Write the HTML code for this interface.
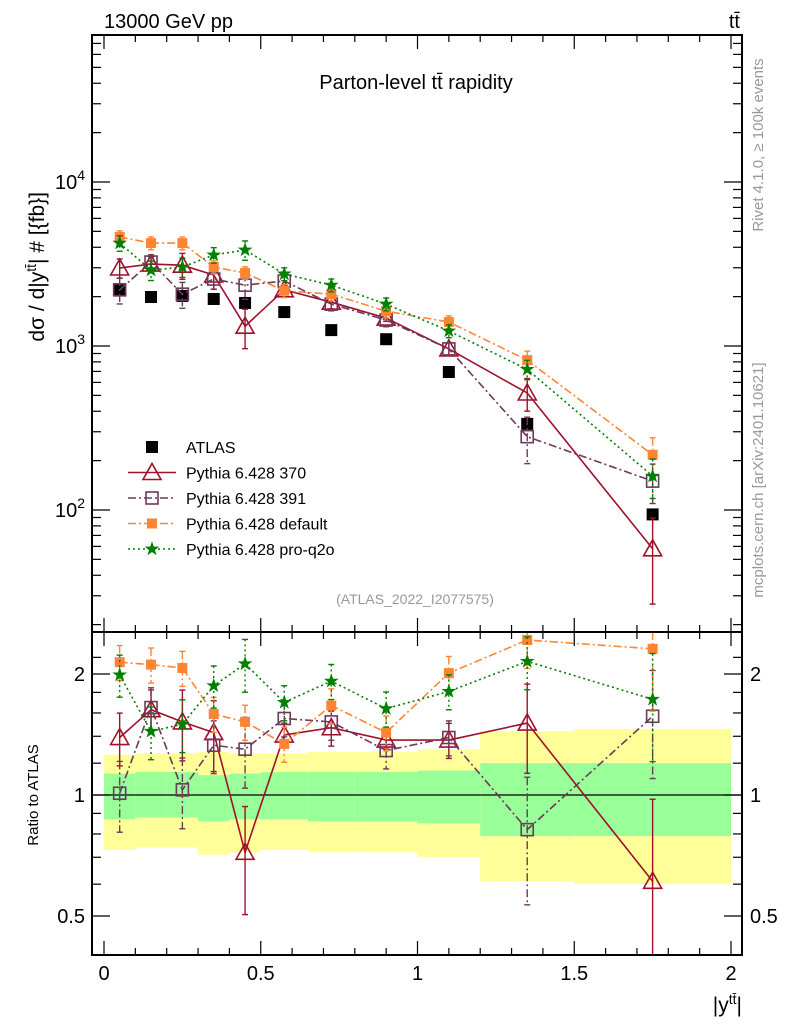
<!DOCTYPE html>
<html><head><meta charset="utf-8"><style>
html,body{margin:0;padding:0;background:#fff}
svg{display:block;font-family:"Liberation Sans",sans-serif}
</style></head><body>
<svg id="c" width="786" height="1024" viewBox="0 0 786 1024" xmlns="http://www.w3.org/2000/svg"></svg>
<script>
const xCenters=[0.05,0.15,0.25,0.35,0.45,0.575,0.725,0.9,1.1,1.35,1.75];
const binEdges=[0,0.1,0.2,0.3,0.4,0.5,0.65,0.8,1.0,1.2,1.5,2.0];
const atlas=[2196,1990,2020,1935,1830,1610,1250,1100,694,335,94];
const p370=[2990,3160,3110,2710,1320,2200,1850,1480,960,517,58];
const p391=[2200,3250,2070,2560,2350,2490,1800,1440,960,280,150];
const pDef=[4620,4240,4240,3030,2790,2170,2070,1630,1400,820,217];
const pQ2o=[4240,2900,3030,3590,3850,2750,2350,1800,1235,720,161];
const r370=[1.39,1.63,1.52,1.43,0.72,1.41,1.47,1.37,1.37,1.51,0.61];
const r391=[1.01,1.65,1.03,1.33,1.30,1.55,1.52,1.29,1.39,0.82,1.57];
const rDef=[2.14,2.11,2.07,1.59,1.52,1.34,1.67,1.43,2.01,2.43,2.31];
const rQ2o=[1.99,1.44,1.50,1.87,2.12,1.70,1.92,1.64,1.81,2.15,1.73];
const e370=[0.15,0.12,0.2,0.2,0.3,0.07,0.1,0.05,0.1,0.25,0.6];
const e391=[0.2,0.12,0.2,0.15,0.2,0.1,0.1,0.1,0.1,0.35,0.3];
const eDef=[0.1,0.1,0.1,0.1,0.1,0.1,0.1,0.1,0.1,0.15,0.3];
const eQ2o=[0.12,0.15,0.15,0.12,0.15,0.1,0.1,0.1,0.1,0.15,0.3];
const greenHi=[1.13,1.14,1.14,1.12,1.13,1.14,1.14,1.14,1.15,1.20,1.20];
const greenLo=[0.87,0.88,0.88,0.86,0.87,0.87,0.86,0.86,0.85,0.79,0.79];
const yellowHi=[1.26,1.27,1.27,1.28,1.27,1.27,1.28,1.28,1.30,1.44,1.46];
const yellowLo=[0.73,0.74,0.74,0.71,0.72,0.73,0.72,0.72,0.70,0.61,0.60];
const xTickLabels=[0,0.5,1,1.5,2];

const NS="http://www.w3.org/2000/svg", svg=document.getElementById('c');
const FL=92,FR=742,MT=35,MB=632,RB=955;
const X=v=>104+v*313.5;
const Y=v=>346-(Math.log10(v)-3)*164;
const R=v=>795-Math.log2(v)*121;
function el(tag,attrs,parent){const e=document.createElementNS(NS,tag);for(const k in attrs)e.setAttribute(k,attrs[k]);(parent||svg).appendChild(e);return e;}
function txt(s,attrs,parent){const t=el('text',attrs,parent);t.textContent=s;return t;}

const gBand=el('g',{});


for(let i=0;i<xCenters.length;i++){
  const x0=X(binEdges[i]),x1=X(binEdges[i+1]);
  const y=el('rect',{x:x0,y:R(yellowHi[i]),width:x1-x0,height:R(yellowLo[i])-R(yellowHi[i]),fill:'#ffff99'},gBand);
  
  
  const g=el('rect',{x:x0,y:R(greenHi[i]),width:x1-x0,height:R(greenLo[i])-R(greenHi[i]),fill:'#99ff99'},gBand);
  
  
}
el('line',{x1:FL,x2:FR,y1:R(1),y2:R(1),stroke:'#000','stroke-width':1.2});

const series=[
 {name:'370',main:p370,ratio:r370,err:e370,color:'#a0102a',dash:'',marker:'tri'},
 {name:'391',main:p391,ratio:r391,err:e391,color:'#6b3a5a',dash:'8,3,2,3',marker:'sq'},
 {name:'default',main:pDef,ratio:rDef,err:eDef,color:'#ff8533',dash:'8,3,2,3',marker:'fsq'},
 {name:'pro-q2o',main:pQ2o,ratio:rQ2o,err:eQ2o,color:'#008000',dash:'2,3',marker:'star'}
];
function clipY(y,top,bot){return Math.max(top,Math.min(bot,y));}
function marker(type,cx,cy,color,g){
  let m;
  if(type==='tri') m=el('polygon',{points:`${cx},${cy-9} ${cx-9},${cy+7} ${cx+9},${cy+7}`,fill:'none',stroke:color,'stroke-width':1.6},g);
  else if(type==='sq') m=el('rect',{x:cx-6,y:cy-6,width:12,height:12,fill:'none',stroke:color,'stroke-width':1.6},g);
  else if(type==='fsq') m=el('rect',{x:cx-5,y:cy-5,width:10,height:10,fill:color},g);
  else if(type==='star'){let p=[];for(let k=0;k<10;k++){const r=k%2?2.6:6.5,a=-Math.PI/2+k*Math.PI/5;p.push((cx+r*Math.cos(a)).toFixed(1)+','+(cy+r*Math.sin(a)).toFixed(1));}
    m=el('polygon',{points:p.join(' '),fill:color,stroke:color,'stroke-width':0.8},g);}
  else if(type==='atlas') m=el('rect',{x:cx-6,y:cy-6,width:12,height:12,fill:'#000'},g);
  return m;
}
function drawSeries(s,vals,mapY,top,bot,panel,scale){
  const g=el('g',{});
  
  
  for(let i=0;i<vals.length;i++){
    const cx=X(xCenters[i]);const er=s.err[i]*scale;
    const y1=clipY(mapY(vals[i]*(1+er)),top,bot),y2=clipY(mapY(vals[i]*(1-er)),top,bot);
    el('line',{x1:cx,x2:cx,y1:y1,y2:y2,stroke:s.color,'stroke-width':1.4,'stroke-dasharray':s.dash},g);
    el('line',{x1:cx-3,x2:cx+3,y1:y1,y2:y1,stroke:s.color,'stroke-width':1.4},g);
    el('line',{x1:cx-3,x2:cx+3,y1:y2,y2:y2,stroke:s.color,'stroke-width':1.4},g);
  }
  const pts=vals.map((v,i)=>X(xCenters[i])+','+clipY(mapY(v),top,bot)).join(' ');
  el('polyline',{points:pts,fill:'none',stroke:s.color,'stroke-width':1.6,'stroke-dasharray':s.dash},g);
  vals.forEach((v,i)=>{const y=mapY(v);if(y>=top-2&&y<=bot+2){const m=marker(s.marker,X(xCenters[i]),y,s.color,g);
    
    }});
}
const ga=el('g',{});


atlas.forEach((v,i)=>{const m=marker('atlas',X(xCenters[i]),Y(v),'#000',ga);
  
  });
series.forEach(s=>drawSeries(s,s.main,Y,MT,MB,'main',0.9));
series.forEach(s=>drawSeries(s,s.ratio,R,MB,RB,'ratio',1));

el('rect',{x:FL,y:MT,width:FR-FL,height:MB-MT,fill:'none',stroke:'#000','stroke-width':2});
el('rect',{x:FL,y:MB,width:FR-FL,height:RB-MB,fill:'none',stroke:'#000','stroke-width':2});
for(let k=0;k<=20;k++){const v=k/10,x=X(v),L=k%5===0?14:7;
  [MT,MB,RB].forEach(y0=>{ if(y0===MT) el('line',{x1:x,x2:x,y1:MT,y2:MT+L,stroke:'#000','stroke-width':1.2});
    else {el('line',{x1:x,x2:x,y1:y0,y2:y0-L,stroke:'#000','stroke-width':1.2}); if(y0===MB) el('line',{x1:x,x2:x,y1:MB,y2:MB+L,stroke:'#000','stroke-width':1.2});}});}
xTickLabels.forEach(v=>{const t=txt(String(v),{x:X(v),y:980,'font-size':20,'text-anchor':'middle'});
  
  });
for(let d=1;d<=4;d++)for(let m=1;m<10;m++){const v=m*Math.pow(10,d),y=Y(v);if(y<MT||y>MB)continue;const L=m===1?18:9;
  el('line',{x1:FL,x2:FL+L,y1:y,y2:y,stroke:'#000','stroke-width':1.2});el('line',{x1:FR,x2:FR-L,y1:y,y2:y,stroke:'#000','stroke-width':1.2});}
[2,3,4].forEach(d=>{const t=el('text',{x:85,y:Y(Math.pow(10,d))+7,'font-size':20,'text-anchor':'end'});
  t.innerHTML='10<tspan dy="-9" font-size="14">'+d+'</tspan>';
  
  });
[0.5,0.6,0.7,0.8,0.9,1,1.2,1.4,1.6,1.8,2,2.2].forEach(v=>{const y=R(v);const L=(v===0.5||v===1||v===2)?18:9;
  el('line',{x1:FL,x2:FL+L,y1:y,y2:y,stroke:'#000','stroke-width':1.2});el('line',{x1:FR,x2:FR-L,y1:y,y2:y,stroke:'#000','stroke-width':1.2});});
[0.5,1,2].forEach(v=>{const a=txt(String(v),{x:85,y:R(v)+7,'font-size':20,'text-anchor':'end'});
  
  
  const b=txt(String(v),{x:750,y:R(v)+7,'font-size':20,'text-anchor':'start'});
  
  });

const leg=[['ATLAS','atlas','#000',''],['Pythia 6.428 370','tri','#a0102a',''],['Pythia 6.428 391','sq','#6b3a5a','8,3,2,3'],['Pythia 6.428 default','fsq','#ff8533','8,3,2,3'],['Pythia 6.428 pro-q2o','star','#008000','2,3']];
leg.forEach((l,i)=>{const y=447+i*25.5;const g=el('g',{});
  
  
  if(i>0) el('line',{x1:128,x2:176,y1:y,y2:y,stroke:l[2],'stroke-width':1.6,'stroke-dasharray':l[3]},g);
  marker(l[1],152,y,l[2],g);
  txt(l[0],{x:186,y:y+6,'font-size':16},g);});
</script>
<div style="position:absolute;left:0;top:0;width:786px;height:1024px;pointer-events:none">
<svg width="786" height="1024" style="font-family:'Liberation Sans',sans-serif">
<text x="104" y="28" font-size="20">13000 GeV pp</text>
<text x="740" y="28" font-size="20" text-anchor="end">tt̄</text>
<text x="416" y="89" font-size="20" text-anchor="middle">Parton-level tt̄ rapidity</text>
<text x="415" y="604" font-size="14" fill="#999" text-anchor="middle">(ATLAS_2022_I2077575)</text>
<text transform="translate(44,192) rotate(-90)" font-size="21" text-anchor="end">dσ / d|y<tspan dy="-8" font-size="14">tt̄</tspan><tspan dy="8">| # [{fb}]</tspan></text>
<text transform="translate(38,795) rotate(-90)" font-size="15" text-anchor="middle">Ratio to ATLAS</text>
<text x="742" y="1012" font-size="21" text-anchor="end">|y<tspan dy="-8" font-size="14">tt̄</tspan><tspan dy="8">|</tspan></text>
<text transform="translate(763,145) rotate(-90)" font-size="15" fill="#999" text-anchor="middle">Rivet 4.1.0, ≥ 100k events</text>
<text transform="translate(763,480) rotate(-90)" font-size="15" fill="#999" text-anchor="middle">mcplots.cern.ch [arXiv:2401.10621]</text>
</svg></div>
</body></html>
